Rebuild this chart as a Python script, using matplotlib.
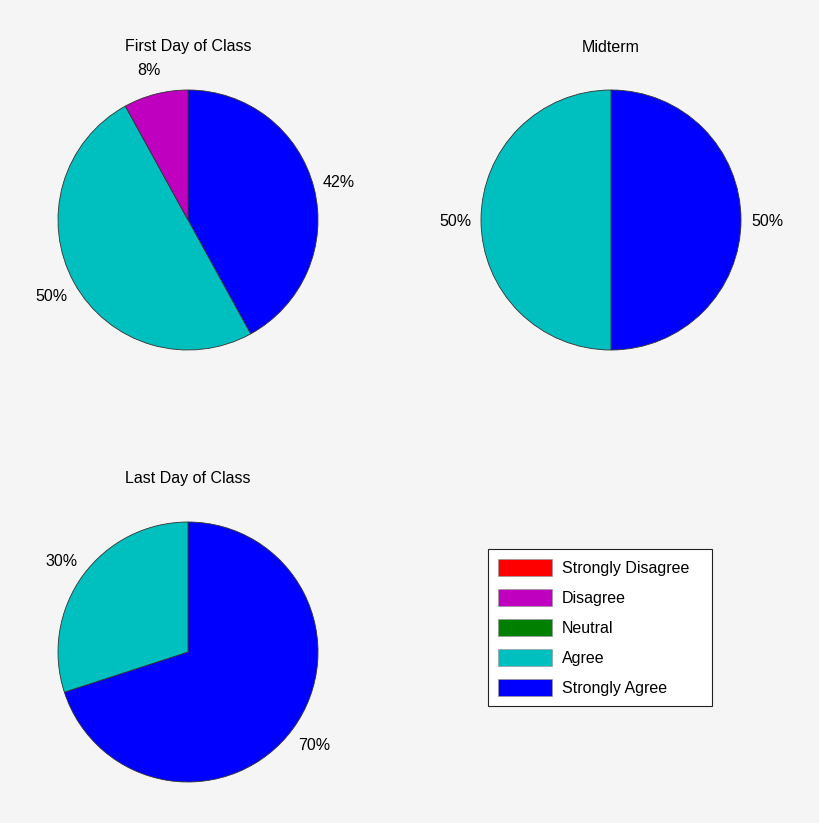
import matplotlib
matplotlib.use("Agg")
import matplotlib.pyplot as plt
from matplotlib.patches import Patch

plt.rcParams['font.family'] = ['Liberation Sans', 'DejaVu Sans']

categories = ["Strongly Disagree", "Disagree", "Neutral", "Agree", "Strongly Agree"]
colors = ["#ff0000", "#bf00bf", "#007f00", "#00bfbf", "#0000ff"]
titles = ["First Day of Class", "Midterm", "Last Day of Class"]
first_day = [0, 8, 0, 50, 42]
midterm = [0, 0, 0, 50, 50]
last_day = [0, 0, 0, 30, 70]
series = [first_day, midterm, last_day]

W, H = 820, 823
fig = plt.figure(figsize=(W / 100, H / 100), dpi=100)
fig.patch.set_facecolor("#f5f5f5")

centers = [(188, 220), (611, 220), (188, 652)]
R = 130

for (cx, cy), vals, title in zip(centers, series, titles):
    ax = fig.add_axes([(cx - R) / W, (H - cy - R) / H, 2 * R / W, 2 * R / H])
    ax.set_facecolor("none")
    # MATLAB-style: start at top, go clockwise, reversed category order
    v, c = [], []
    for val, col in zip(reversed(vals), reversed(colors)):
        if val > 0:
            v.append(val)
            c.append(col)
    wedges, texts = ax.pie(v, colors=c, startangle=90, counterclock=False,
                           labels=[f"{x}%" for x in v], labeldistance=1.2,
                           radius=1,
                           wedgeprops=dict(edgecolor="#333333", linewidth=0.6),
                           textprops=dict(fontsize=11.5))
    for t in texts:
        t.set_horizontalalignment("center")
        t.set_verticalalignment("center_baseline")
    ax.set_xlim(-1, 1)
    ax.set_ylim(-1, 1)
    ax.set_aspect("equal")
    fig.text(cx / W, 1 - (cy - 173) / H, title, ha="center", va="center",
             fontsize=11.5)
    ax.axis("off")

handles = [Patch(facecolor=col, edgecolor="#999999", linewidth=0.5) for col in colors]
leg = fig.legend(handles, categories, loc="upper left",
                 bbox_to_anchor=(488 / W, 1 - 706 / H, 224 / W, 157 / H),
                 mode="expand", fontsize=11.5,
                 frameon=True, fancybox=False, edgecolor="#222222",
                 facecolor="white", framealpha=1,
                 handlelength=3.4, handleheight=1.25, labelspacing=0.82,
                 borderpad=0.62, handletextpad=0.6, borderaxespad=0)
leg.get_frame().set_linewidth(0.8)

fig.savefig("out.png", dpi=100, facecolor=fig.get_facecolor())
